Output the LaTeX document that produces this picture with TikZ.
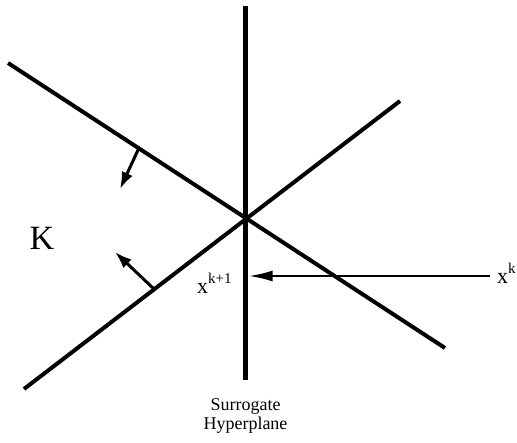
\documentclass[tikz,border=0pt]{standalone}
\usepackage{fontspec}
\setmainfont{Liberation Serif}
\usetikzlibrary{arrows.meta}
\begin{document}
\begin{tikzpicture}[x=1pt, y=-1pt,
  plane/.style={line width=4pt},
  normal/.style={-{Latex[length=17pt,width=12pt]}, line width=3pt},
  lbl/.style={inner sep=0pt, font=\fontsize{22}{24}\selectfont},
]
\useasboundingbox (0,0) rectangle (517,442);

% ---------------------------------------------------------------- hyperplanes
\coordinate (a1) at (8,63);
\coordinate (a2) at (445,348);
\coordinate (b1) at (24,389);
\coordinate (b2) at (400,101);
\coordinate (s1) at (245.5,6);
\coordinate (s2) at (245.5,380);
\draw[plane] (a1) -- (a2);
\draw[plane] (b1) -- (b2);
\draw[plane, line width=5.5pt] (s1) -- (s2);

% ---------------------------------------------------------------- normals
\coordinate (n1) at (138,150);
\coordinate (t1) at (120,189);
\coordinate (n2) at (154,289);
\coordinate (t2) at (115,252);
\draw[normal] (n1) -- (t1);
\draw[normal] (n2) -- (t2);

% ---------------------------------------------------------------- labels
\node[lbl, font=\fontsize{34}{36}\selectfont] (K) at (42,238) {K};
\node[lbl, anchor=base west] (xk) at (497,283) {x\raisebox{10pt}{\fontsize{15}{15}\selectfont k}};
\node[lbl, anchor=base west] (xk1) at (197,293) {x\raisebox{10pt}{\fontsize{15}{15}\selectfont k+1}};
\node[lbl, font=\fontsize{18}{19}\selectfont, align=center, anchor=north] (sh) at (245.5,398)
  {Surrogate\\Hyperplane};

% ---------------------------------------------------------------- projection
\coordinate (hit) at (248.5,276);
\draw[-{Latex[length=24pt,width=11pt]}, line width=2.5pt]
  (xk.west |- hit) ++(-7,0) coordinate (src) (src) -- (hit);
\end{tikzpicture}
\end{document}
